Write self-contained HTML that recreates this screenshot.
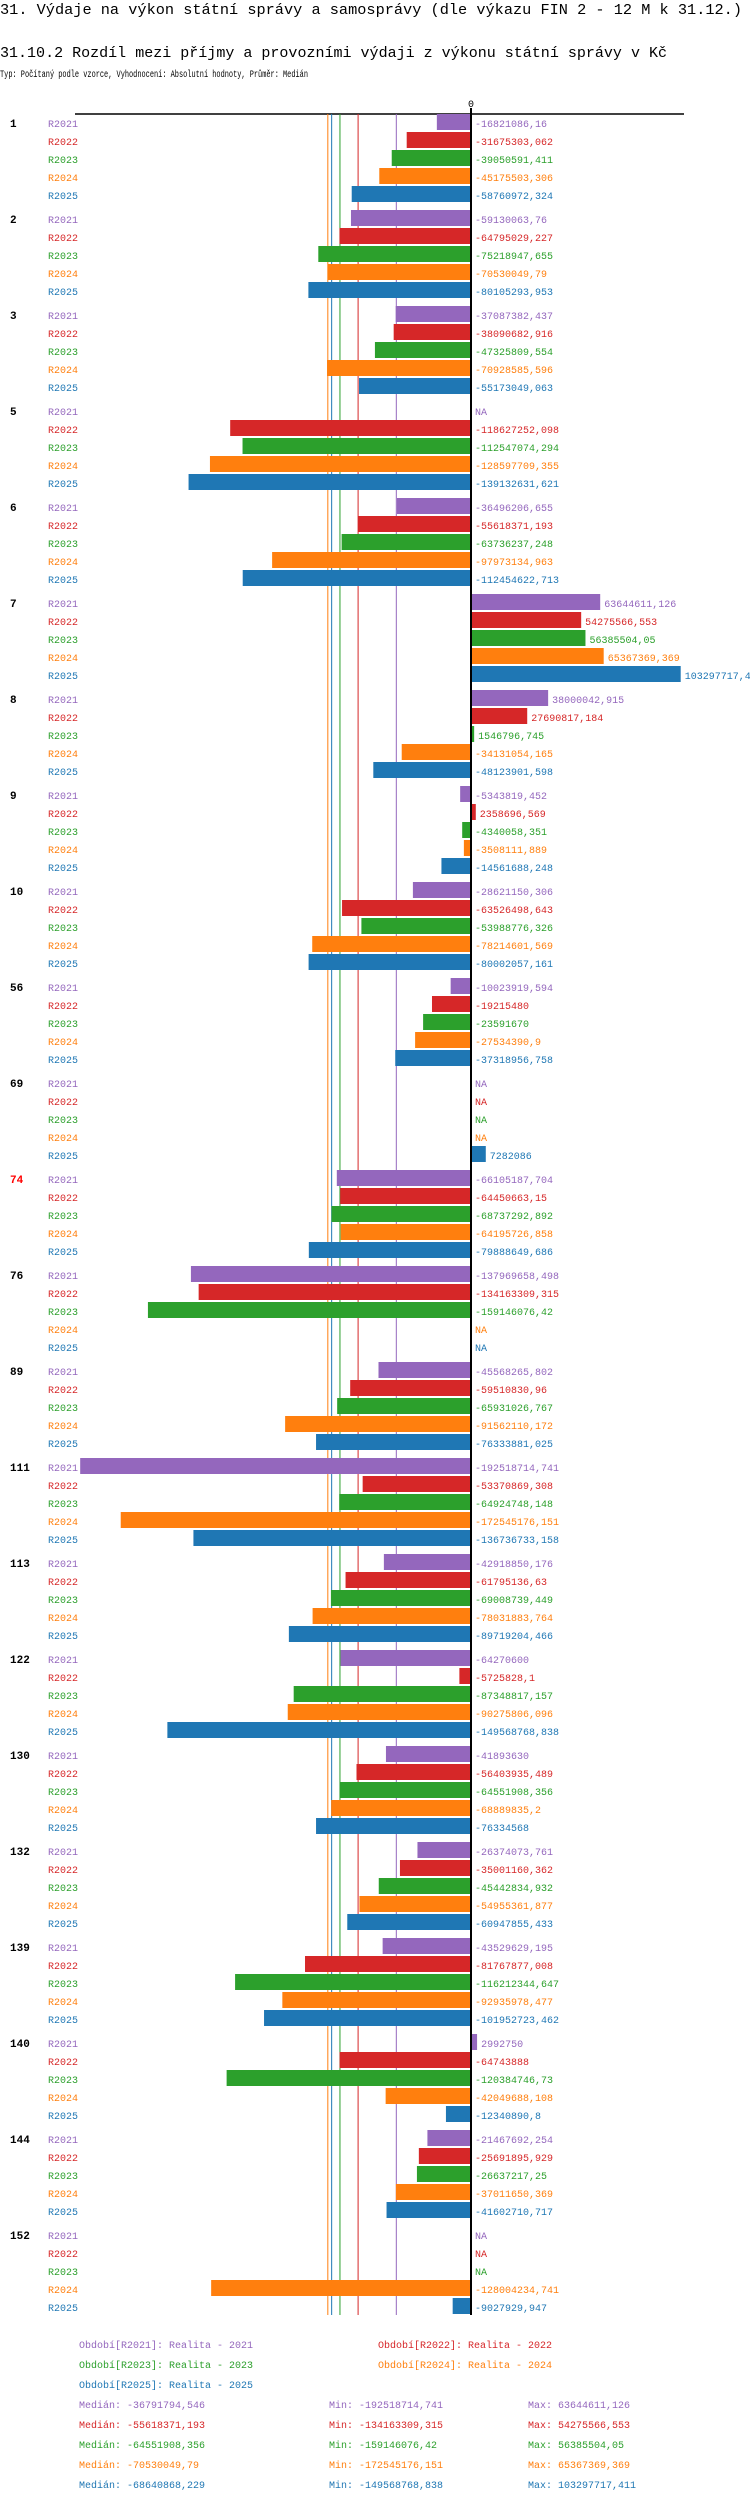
<!DOCTYPE html>
<html><head><meta charset="utf-8">
<style>
html,body{margin:0;padding:0;background:#fff;}
body{width:750px;height:2502px;overflow:hidden;position:relative;font-family:"Liberation Mono",monospace;}
svg{position:absolute;left:0;top:0;}
</style></head>
<body>
<svg id="chart" width="750" height="2502" xmlns="http://www.w3.org/2000/svg">
<text x="0" y="14" font-size="15" textLength="742" lengthAdjust="spacingAndGlyphs" font-family="Liberation Mono, monospace" fill="#000">31. Výdaje na výkon státní správy a samosprávy (dle výkazu FIN 2 - 12 M k 31.12.)</text>
<text x="0" y="57" font-size="15" textLength="667" lengthAdjust="spacingAndGlyphs" font-family="Liberation Mono, monospace" fill="#000">31.10.2 Rozdíl mezi příjmy a provozními výdaji z výkonu státní správy v Kč</text>
<text x="0" y="77" font-size="10" textLength="308" lengthAdjust="spacingAndGlyphs" font-family="Liberation Mono, monospace" fill="#000">Typ: Počítaný podle vzorce, Vyhodnocení: Absolutní hodnoty, Průměr: Medián</text>
</svg>
<script>
const groups = ["1","2","3","5","6","7","8","9","10","56","69","74","76","89","111","113","122","130","132","139","140","144","152"];
const seriesNames = ["R2021","R2022","R2023","R2024","R2025"];
const r2021 = [-16821086.16,-59130063.76,-37087382.437,null,-36496206.655,63644611.126,38000042.915,-5343819.452,-28621150.306,-10023919.594,null,-66105187.704,-137969658.498,-45568265.802,-192518714.741,-42918850.176,-64270600,-41893630,-26374073.761,-43529629.195,2992750,-21467692.254,null];
const r2022 = [-31675303.062,-64795029.227,-38090682.916,-118627252.098,-55618371.193,54275566.553,27690817.184,2358696.569,-63526498.643,-19215480,null,-64450663.15,-134163309.315,-59510830.96,-53370869.308,-61795136.63,-5725828.1,-56403935.489,-35001160.362,-81767877.008,-64743888,-25691895.929,null];
const r2023 = [-39050591.411,-75218947.655,-47325809.554,-112547074.294,-63736237.248,56385504.05,1546796.745,-4340058.351,-53988776.326,-23591670,null,-68737292.892,-159146076.42,-65931026.767,-64924748.148,-69008739.449,-87348817.157,-64551908.356,-45442834.932,-116212344.647,-120384746.73,-26637217.25,null];
const r2024 = [-45175503.306,-70530049.79,-70928585.596,-128597709.355,-97973134.963,65367369.369,-34131054.165,-3508111.889,-78214601.569,-27534390.9,null,-64195726.858,null,-91562110.172,-172545176.151,-78031883.764,-90275806.096,-68889835.2,-54955361.877,-92935978.477,-42049688.108,-37011650.369,-128004234.741];
const r2025 = [-58760972.324,-80105293.953,-55173049.063,-139132631.621,-112454622.713,103297717.411,-48123901.598,-14561688.248,-80002057.161,-37318956.758,7282086,-79888649.686,null,-76333881.025,-136736733.158,-89719204.466,-149568768.838,-76334568,-60947855.433,-101952723.462,-12340890.8,-41602710.717,-9027929.947];
const series = [r2021,r2022,r2023,r2024,r2025];
const colors = ["#9467bd","#d62728","#2ca02c","#ff7f0e","#1f77b4"];

const NS = "http://www.w3.org/2000/svg";
const svg = document.getElementById('chart');
const X0 = 471, PXM = 2.03e-6;
function xs(v){ return X0 + v*PXM; }
function yRow(g,r){ return 123 + 96*g + 18*r; }
const FONT = "Liberation Mono, monospace";
function mk(tag, attrs){ const e=document.createElementNS(NS,tag); for(const k in attrs) e.setAttribute(k,attrs[k]); svg.appendChild(e); return e; }
function fmt(v){ let s=(Math.round(v*1000)/1000).toString(); return s.replace('.',','); }

const lastY = yRow(groups.length-1,4)+8;
const ax = mk('line',{x1:75,y1:114,x2:684,y2:114,stroke:'#000','stroke-width':1.5});


const zl = mk('text',{x:X0-3,y:107,'font-size':10,'font-family':FONT,fill:'#000'});
zl.textContent='0';



function median(arr){ const a=arr.filter(v=>v!==null).sort((p,q)=>p-q); const n=a.length; return n%2?a[(n-1)/2]:(a[n/2-1]+a[n/2])/2; }
const meds = series.map(median);
meds.forEach((m,i)=>{
  const l = mk('line',{x1:xs(m),y1:114,x2:xs(m),y2:lastY,stroke:colors[i],'stroke-width':1});
  
  
});

groups.forEach((gname,g)=>{
  const gl = mk('text',{x:10,y:yRow(g,0)+4,'font-size':11,'font-weight':'bold','font-family':FONT,fill:gname==='74'?'#ff0000':'#000'});
  gl.textContent=gname;
  
  
  series.forEach((arr,r)=>{
    const cy=yRow(g,r);
    const sl = mk('text',{x:48,y:cy+4,'font-size':10,'font-family':FONT,fill:colors[r]});
    sl.textContent=seriesNames[r];
    
    
    const v=arr[g];
    let lx=X0+4, txt='NA';
    if(v!==null){
      const x1=Math.min(xs(0),xs(v)), w=Math.abs(xs(v)-xs(0));
      const b = mk('rect',{x:x1,y:cy-9,width:Math.max(w,1),height:16,fill:colors[r]});
      
      
      if(v>0) lx=xs(v)+4;
      txt=fmt(v);
    }
    const vl = mk('text',{x:lx,y:cy+4,'font-size':10,'font-family':FONT,fill:colors[r]});
    vl.textContent=txt;
    
    
  });
});

const zline = mk('line',{x1:X0,y1:108,x2:X0,y2:lastY,stroke:'#000','stroke-width':2});



const legPos=[[79,2348],[378,2348],[79,2368],[378,2368],[79,2388]];
seriesNames.forEach((s,i)=>{
  const t = mk('text',{x:legPos[i][0],y:legPos[i][1],'font-size':10,'font-family':FONT,fill:colors[i]});
  t.textContent='Období['+s+']: Realita - '+s.slice(1);
  
  
});
series.forEach((arr,i)=>{
  const a=arr.filter(v=>v!==null);
  const y=2408+20*i;
  const vals=[['Medián: ',meds[i],79,'median'],['Min: ',Math.min(...a),329,'min'],['Max: ',Math.max(...a),528,'max']];
  vals.forEach(([lab,v,x,nm])=>{
    const t = mk('text',{x:x,y:y,'font-size':10,'font-family':FONT,fill:colors[i]});
    t.textContent=lab+fmt(v);
    
    
  });
});
</script>
</body></html>
